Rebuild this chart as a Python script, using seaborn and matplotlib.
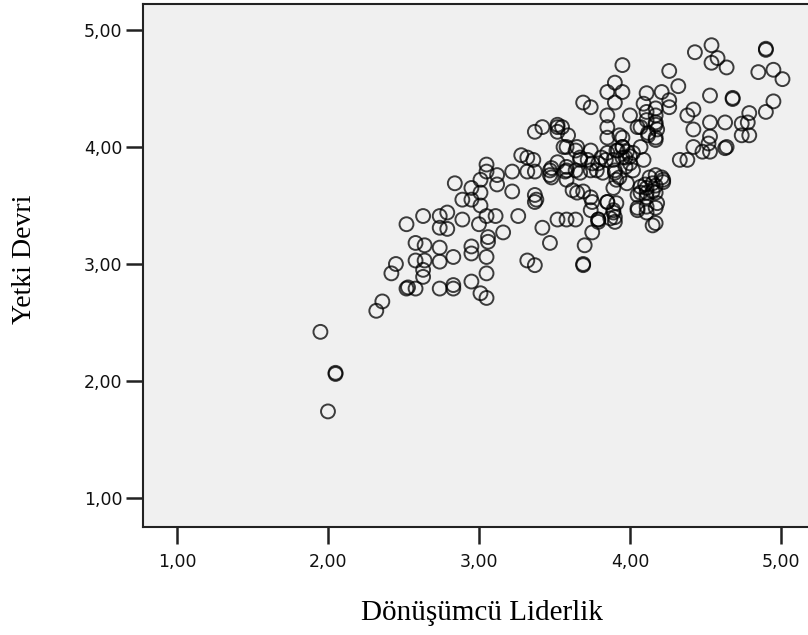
import matplotlib
matplotlib.use("Agg")
import matplotlib.pyplot as plt
import seaborn as sns
import pandas as pd

x_label = "Dönüşümcü Liderlik"
y_label = "Yetki Devri"
tick_values = [1, 2, 3, 4, 5]
tick_labels = ["1,00", "2,00", "3,00", "4,00", "5,00"]

# (Dönüşümcü Liderlik, Yetki Devri) pairs
lower_left = [
    (1.95, 2.42), (2.05, 2.06), (2.05, 2.07), (2.00, 1.74), (2.32, 2.60), (2.36, 2.68),
    (2.42, 2.92), (2.45, 3.00), (2.52, 2.79), (2.53, 2.80), (2.58, 2.79), (2.58, 3.18),
    (2.64, 3.16), (2.58, 3.03), (2.64, 3.03), (2.63, 2.89), (2.63, 2.95), (2.74, 3.14),
    (2.74, 3.02), (2.74, 2.79), (2.83, 3.06), (2.83, 2.82), (2.83, 2.79),
]
mid_left = [
    (2.52, 3.34), (2.63, 3.41), (2.74, 3.41), (2.79, 3.44), (2.74, 3.31), (2.79, 3.30),
    (2.89, 3.38), (2.84, 3.69), (2.89, 3.55), (2.95, 3.65), (2.95, 3.55), (3.01, 3.72),
    (3.01, 3.61), (3.01, 3.50), (3.00, 3.34), (3.05, 3.85), (3.05, 3.79), (3.12, 3.76),
    (3.12, 3.68), (3.05, 3.41), (3.11, 3.41), (3.16, 3.27), (3.06, 3.23), (3.06, 3.19),
    (3.22, 3.79), (3.22, 3.62), (3.26, 3.41), (3.28, 3.93), (3.32, 3.91), (3.32, 3.79),
    (3.37, 3.79), (3.37, 3.59), (3.38, 3.55), (3.42, 3.31), (3.47, 3.18), (3.47, 3.80),
    (3.48, 3.74), (3.52, 3.38), (3.58, 3.38), (3.57, 3.79), (3.32, 3.03), (3.37, 2.99),
    (2.95, 3.15), (2.95, 3.09), (3.05, 3.06), (3.05, 2.92), (2.95, 2.85), (3.01, 2.75),
    (3.05, 2.71), (3.37, 3.53), (3.36, 3.89),
]
upper_mid = [
    (3.95, 4.70), (4.26, 4.65), (4.32, 4.52), (3.85, 4.47), (3.90, 4.55), (3.95, 4.47),
    (3.90, 4.38), (3.69, 4.38), (3.74, 4.34), (4.11, 4.46), (4.21, 4.47), (4.26, 4.40),
    (4.26, 4.34), (4.17, 4.33), (4.17, 4.27), (4.17, 4.21), (4.11, 4.30), (4.11, 4.23),
    (4.00, 4.27), (4.09, 4.37), (3.85, 4.27), (3.85, 4.17), (4.05, 4.17), (4.12, 4.12),
    (4.18, 4.15), (4.17, 4.08), (3.95, 4.08), (4.07, 4.00), (3.92, 3.97), (3.98, 3.96),
    (3.95, 3.91), (3.37, 4.13), (3.42, 4.17), (3.52, 4.17), (3.52, 4.19), (3.59, 4.10),
    (3.52, 4.13), (3.85, 4.08), (3.93, 4.10), (4.07, 4.17), (4.17, 4.19), (4.12, 4.10),
    (4.17, 4.06), (3.55, 4.17), (3.58, 4.00), (3.64, 3.97),
]
right_side = [
    (4.38, 4.27), (4.42, 4.32), (4.53, 4.44), (4.42, 4.15), (4.53, 4.21), (4.53, 4.09),
    (4.63, 4.21), (4.42, 4.00), (4.48, 3.96), (4.53, 3.96), (4.52, 4.03), (4.63, 3.99),
    (4.33, 3.89), (4.38, 3.89), (4.43, 4.81), (4.54, 4.87), (4.54, 4.72), (4.58, 4.76),
    (4.64, 4.68), (4.90, 4.83), (4.90, 4.84), (4.85, 4.64), (4.95, 4.66), (5.01, 4.58),
    (4.68, 4.41), (4.68, 4.42), (4.95, 4.39), (4.90, 4.30), (4.79, 4.29), (4.78, 4.21),
    (4.74, 4.20), (4.74, 4.10), (4.79, 4.10), (4.64, 4.00),
]
dense = [
    (3.56, 4.00), (3.65, 4.00), (3.74, 3.97), (3.48, 3.82), (3.47, 3.76), (3.58, 3.80),
    (3.58, 3.72), (3.67, 3.89), (3.67, 3.78), (3.75, 3.86), (3.78, 3.80), (3.81, 3.91),
    (3.85, 3.95), (3.89, 3.89), (3.91, 3.97), (3.95, 4.00), (3.97, 3.91), (4.00, 3.86),
    (4.02, 3.95), (4.09, 3.89), (3.90, 3.78), (3.93, 3.74), (3.89, 3.65), (3.98, 3.69),
    (3.62, 3.63), (3.69, 3.62), (3.74, 3.57), (3.75, 3.53), (3.85, 3.53), (3.91, 3.52),
    (3.89, 3.44), (3.87, 3.39), (4.07, 3.66), (4.10, 3.68), (4.15, 3.62), (4.21, 3.74),
    (4.17, 3.76), (4.11, 3.61), (4.05, 3.59), (4.05, 3.48), (4.11, 3.49), (4.17, 3.48),
    (4.15, 3.33), (3.64, 3.38), (3.75, 3.27), (3.79, 3.36), (3.70, 3.16), (3.69, 2.99),
    (3.69, 3.00), (4.15, 3.69), (4.22, 3.72), (4.07, 3.61), (4.17, 3.61), (3.74, 3.46),
    (3.79, 3.38), (3.89, 3.46), (3.90, 3.40), (3.65, 3.61), (3.52, 3.87), (3.58, 3.83),
    (3.64, 3.80), (3.67, 3.91), (3.72, 3.89), (3.74, 3.80), (3.79, 3.86), (3.82, 3.78),
    (3.84, 3.89), (3.90, 3.80), (3.91, 3.72), (3.97, 3.83), (3.95, 4.00), (4.00, 3.92),
    (4.02, 3.80), (4.13, 3.74), (4.11, 3.65), (4.17, 3.67), (4.22, 3.70), (3.85, 3.53),
    (3.90, 3.36), (3.79, 3.38), (4.05, 3.46), (4.11, 3.44), (4.17, 3.35), (4.11, 3.57),
    (4.18, 3.52),
]

points = lower_left + mid_left + upper_mid + right_side + dense
df = pd.DataFrame(points, columns=[x_label, y_label])

W, H = 808, 635
fig = plt.figure(figsize=(W / 100, H / 100), dpi=100)
ax = fig.add_axes([143 / W, 1 - 527 / H, 672 / W, 523 / H])
ax.set_facecolor("#F0F0F0")

sns.scatterplot(data=df, x=x_label, y=y_label, ax=ax, s=100, marker="o",
                facecolors="none", edgecolor="black", linewidth=1.4, alpha=0.75,
                legend=False)

ax.set_xlim(0.775, 0.775 + 672 / 151)
ax.set_ylim(1 - 29 / 117, 1 - 29 / 117 + 523 / 117)
ax.set_xticks(tick_values)
ax.set_xticklabels(tick_labels)
ax.set_yticks(tick_values)
ax.set_yticklabels(tick_labels)
ax.set_xlabel("")
ax.set_ylabel("")
ax.tick_params(axis="both", direction="out", length=12, width=1.8, color="#222222",
               labelsize=12.5, labelcolor="#111111")
ax.tick_params(axis="x", pad=7)
ax.tick_params(axis="y", pad=3)
for sp in ax.spines.values():
    sp.set_color("#222222")
    sp.set_linewidth(1.5)
ax.grid(False)

fig.text(482 / W, 1 - 613 / H, x_label, ha="center", va="center",
         family="Liberation Serif", fontsize=21, color="black")
fig.text(25 / W, 1 - 259 / H, y_label, ha="center", va="center", rotation=90,
         family="Liberation Serif", fontsize=20, color="black")

fig.savefig("out.png", dpi=100, facecolor="white")
